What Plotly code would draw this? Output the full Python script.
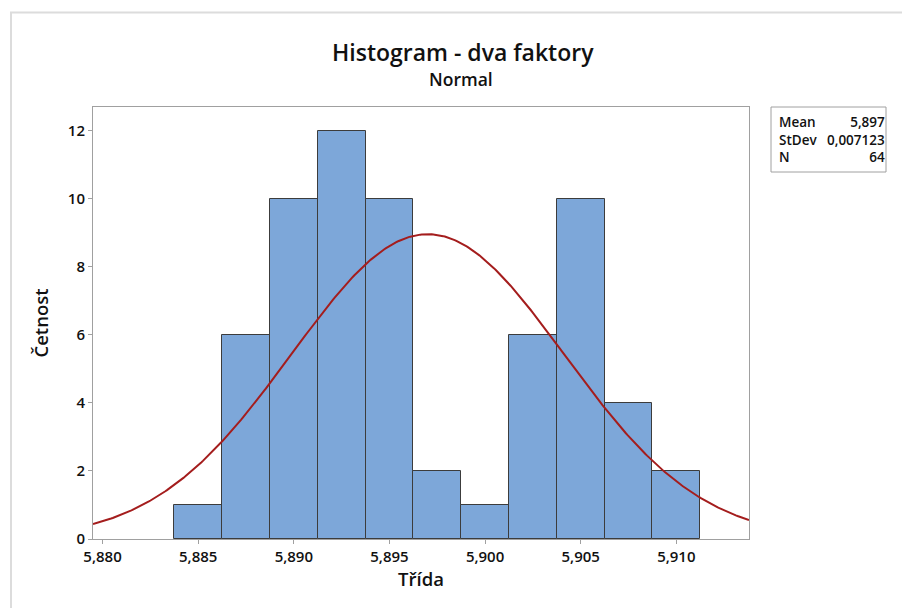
import numpy as np
import plotly.graph_objects as go

# Histogram data: bin midpoints and counts
bin_centers = [5.8850, 5.8875, 5.8900, 5.8925, 5.8950, 5.8975,
               5.9000, 5.9025, 5.9050, 5.9075, 5.9100]
counts = [1, 6, 10, 12, 10, 2, 1, 6, 10, 4, 2]
bin_width = 0.0025

# Fitted normal distribution parameters
mean = 5.897
stdev = 0.007123
n_obs = 64

stat_labels = ["Mean", "StDev", "N"]
stat_values = ["5,897", "0,007123", "64"]

x_ticks = [5.880, 5.885, 5.890, 5.895, 5.900, 5.905, 5.910]
y_ticks = [0, 2, 4, 6, 8, 10, 12]

x_range = [5.8795, 5.9138]
y_range = [0, 12.7]

FONT = "Open Sans"
W, H = 902, 608
L, R, T, B = 93, 153, 107, 69

fig = go.Figure()

fig.add_trace(go.Bar(
    x=bin_centers, y=counts, width=bin_width,
    marker=dict(color="#7DA7D9", line=dict(color="#3C3C3C", width=1)),
    hoverinfo="x+y", showlegend=False,
))

xs = np.linspace(x_range[0], x_range[1], 400)
pdf = n_obs * bin_width / (stdev * np.sqrt(2 * np.pi)) * np.exp(-0.5 * ((xs - mean) / stdev) ** 2)
fig.add_trace(go.Scatter(
    x=xs, y=pdf, mode="lines",
    line=dict(color="#A41D1D", width=2), showlegend=False, hoverinfo="skip",
))

def px_to_paper_x(px):
    return (px - L) / (W - L - R)

def px_to_paper_y(py):
    return (H - B - py) / (H - T - B)

# Outer light frame
fig.add_shape(type="rect", xref="paper", yref="paper",
              x0=px_to_paper_x(11), x1=px_to_paper_x(910),
              y0=px_to_paper_y(620), y1=px_to_paper_y(12.5),
              line=dict(color="#DCDCDC", width=2), layer="below")

# Statistics box
fig.add_shape(type="rect", xref="paper", yref="paper",
              x0=px_to_paper_x(771), x1=px_to_paper_x(886),
              y0=px_to_paper_y(172), y1=px_to_paper_y(107),
              line=dict(color="#A0A0A0", width=1), fillcolor="white")

stat_font = dict(family=FONT, size=13.5, color="#111", weight=600)
fig.add_annotation(x=px_to_paper_x(777), y=px_to_paper_y(140), xref="paper", yref="paper",
                   text="<br>".join(stat_labels), showarrow=False, align="left",
                   xanchor="left", yanchor="middle", font=stat_font)
fig.add_annotation(x=px_to_paper_x(887), y=px_to_paper_y(140), xref="paper", yref="paper",
                   text="<br>".join(stat_values), showarrow=False, align="right",
                   xanchor="right", yanchor="middle", font=stat_font)

# Title and subtitle
fig.add_annotation(x=px_to_paper_x(463), y=px_to_paper_y(52), xref="paper", yref="paper",
                   text="Histogram - dva faktory", showarrow=False,
                   xanchor="center", yanchor="middle",
                   font=dict(family=FONT, size=23, color="#111", weight=600))
fig.add_annotation(x=px_to_paper_x(461), y=px_to_paper_y(79), xref="paper", yref="paper",
                   text="Normal", showarrow=False,
                   xanchor="center", yanchor="middle",
                   font=dict(family=FONT, size=17.5, color="#111", weight=600))

axis_common = dict(
    showline=True, linecolor="#A0A0A0", linewidth=1, mirror=True,
    ticks="outside", tickcolor="#A0A0A0", ticklen=4, tickwidth=1,
    showgrid=False, zeroline=False,
    tickfont=dict(family=FONT, size=15, color="#111", weight=600),
)

fig.update_xaxes(range=x_range, tickvals=x_ticks, tickformat=".3f",
                 title=dict(text="Třída", font=dict(family=FONT, size=18.5, color="#111", weight=600),
                            standoff=7),
                 **axis_common)
fig.update_yaxes(range=y_range, tickvals=y_ticks,
                 title=dict(text="Četnost", font=dict(family=FONT, size=18.5, color="#111", weight=600),
                            standoff=14),
                 **axis_common)

fig.update_layout(
    width=W, height=H,
    margin=dict(l=L, r=R, t=T, b=B, autoexpand=False),
    plot_bgcolor="white", paper_bgcolor="white",
    separators=", ",
    bargap=0,
    font=dict(family=FONT),
)

fig.write_html("out.html")
